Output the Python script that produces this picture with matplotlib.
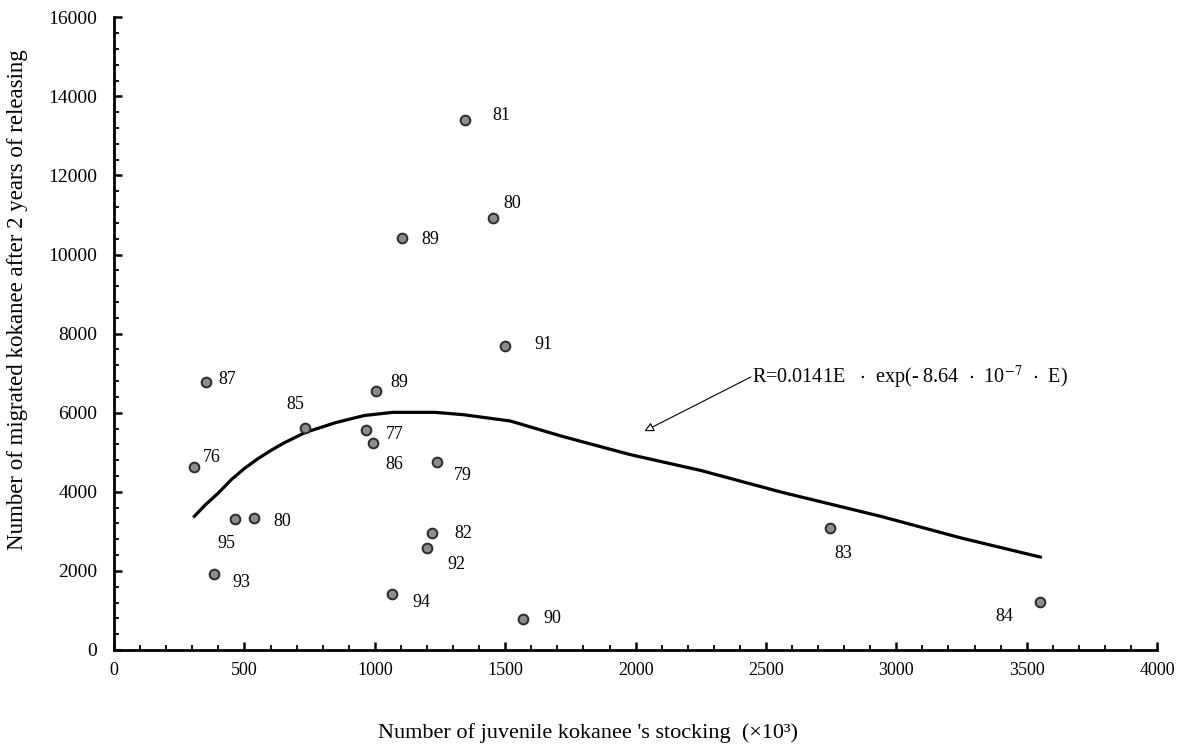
import matplotlib.pyplot as plt
from matplotlib.ticker import MultipleLocator

# 방류 후 2년 뒤 회귀 수 vs 치어 방류 수
years = ['76', '77', '79', '80', '81', '82', '83', '84', '85', '86',
         '87', '89', '89', '80', '90', '91', '92', '93', '94', '95']
stocking = [308, 965, 1238, 538, 1346, 1221, 2744, 3552, 733, 992,
            352, 1005, 1106, 1455, 1570, 1500, 1202, 384, 1064, 462]
migrated = [4615, 5562, 4751, 3334, 13400, 2962, 3097, 1207, 5620, 5224,
            6777, 6557, 10423, 10919, 777, 7696, 2590, 1932, 1418, 3316]

# fitted curve as drawn
curve_x = [308, 350, 400, 450, 500, 550, 600, 650, 733, 850, 960, 1070,
           1230, 1340, 1520, 1720, 1980, 2250, 2560, 2940, 3250, 3552]
curve_y = [3380, 3670, 3970, 4310, 4590, 4830, 5040, 5230, 5500, 5750,
           5930, 6010, 6010, 5950, 5790, 5400, 4940, 4540, 3990, 3380,
           2830, 2350]

# label offsets in pixels (dx right, dy down)
offsets = [(17, -10), (29, 4), (26, 13), (28, 3), (36, -5), (31, 1), (14, 26),
           (-36, 14), (-10, -23), (22, 21), (21, -2), (23, -8), (28, 2),
           (19, -15), (29, -1), (38, -1), (29, 17), (27, 9), (30, 9), (-8, 25)]

plt.rcParams['font.family'] = ['Liberation Serif', 'DejaVu Serif']
plt.rcParams['mathtext.fontset'] = 'stix'

fig = plt.figure(figsize=(11.88, 7.51), dpi=100)
ax = fig.add_axes([0.096, 0.1345, 0.878, 0.8425])

ax.plot(curve_x, curve_y, color='black', lw=2.3, zorder=2)
ax.plot(stocking, migrated, 'o', ms=7, mfc='#8c8c8c', mec='#2a2a2a',
        mew=1.4, zorder=3)

for x, y, t, (dx, dy) in zip(stocking, migrated, years, offsets):
    ax.annotate(t, (x, y), xytext=(dx, -dy), textcoords='offset pixels',
                ha='center', va='center', fontsize=13)

ax.annotate('', xy=(2024, 5501), xytext=(2452, 6937),
            arrowprops=dict(arrowstyle='-|>', color='black', lw=0.8,
                            fc='white', mutation_scale=14))
ax.text(2447, 6880,
        r'R=0.0141E   $\cdot$  exp(- 8.64  $\cdot$  10$^{\mathrm{-7}}$  $\cdot$  E)',
        ha='left', va='center', fontsize=14.5)

ax.set_xlim(0, 4000)
ax.set_ylim(0, 16000)
ax.xaxis.set_major_locator(MultipleLocator(500))
ax.xaxis.set_minor_locator(MultipleLocator(100))
ax.yaxis.set_major_locator(MultipleLocator(2000))
ax.yaxis.set_minor_locator(MultipleLocator(400))

for s in ['top', 'right']:
    ax.spines[s].set_visible(False)
for s in ['left', 'bottom']:
    ax.spines[s].set_linewidth(2)

ax.tick_params(which='major', direction='in', length=6, width=1.8,
               labelsize=13)
ax.tick_params(which='minor', direction='in', length=3.5, width=1.3)
ax.tick_params(axis='x', which='major', pad=9)
ax.tick_params(axis='y', which='major', pad=12, labelsize=14)

fig.text(588 / 1188, 1 - 733 / 751,
         "Number of juvenile kokanee 's stocking  (×10³)",
         ha='center', va='center', fontsize=16)
fig.text(18 / 1188, 1 - 300 / 751,
         'Number of migrated kokanee after 2 years of releasing',
         ha='center', va='center', rotation=90, fontsize=16.5)

fig.savefig('out.png', dpi=100)
